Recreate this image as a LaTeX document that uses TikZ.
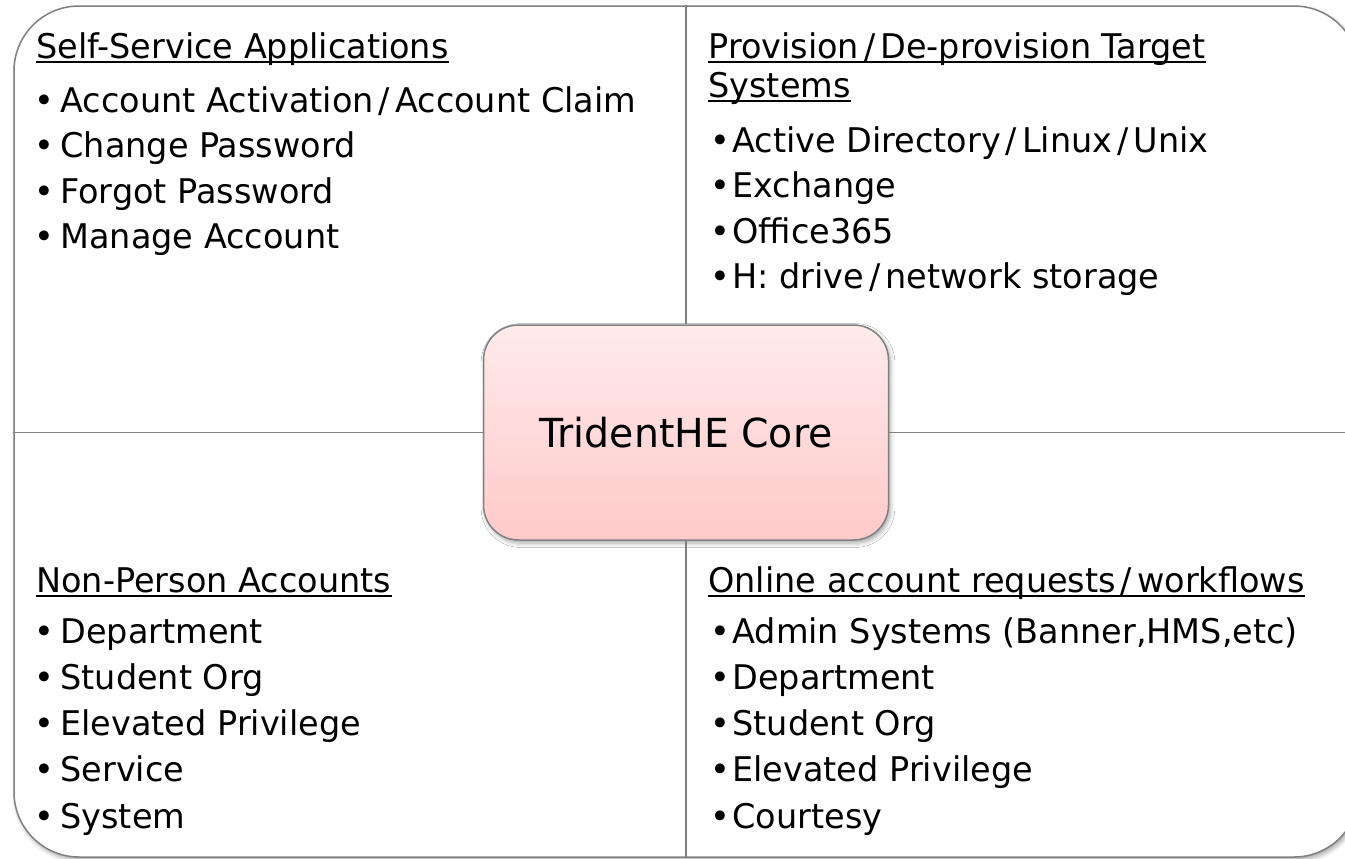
\documentclass[tikz,border=0pt]{standalone}
\usepackage{fontspec}
\setmainfont{DejaVu Sans}[FakeStretch=0.985]
\usetikzlibrary{shadows.blur}
\colorlet{linecol}{black!50}
\colorlet{coretop}{red!8}
\colorlet{corebot}{red!21}
\newcommand\quadfont{\fontsize{17}{20}\selectfont}
\newcommand\corefont{\fontsize{20}{24}\selectfont}
\newcommand\slh{\kern2.5pt/\kern2.5pt}
\tikzset{
  frame/.style={draw=linecol,line width=0.75pt,rounded corners=32.5pt,fill=white,
                blur shadow={shadow xshift=1pt,shadow yshift=-1.5pt,shadow opacity=35}},
  corebox/.style={draw=linecol,line width=0.75pt,rounded corners=17.5pt,
                  top color=coretop,bottom color=corebot,font=\corefont,
                  minimum width=202.5pt,minimum height=107.5pt,
                  blur shadow={shadow xshift=1pt,shadow yshift=-1.5pt,shadow opacity=35}},
  divider/.style={linecol,line width=0.75pt},
  head/.style={anchor=base west,inner sep=0,font=\quadfont},
  uline/.style={line width=0.8pt},
  item/.style={anchor=base west,inner sep=0,font=\quadfont},
  bul/.style={anchor=base,inner sep=0,font=\quadfont}
}

\begin{document}
\begin{tikzpicture}[x=0.5pt,y=-0.5pt]
  \def\dy{45.5}
  \def\dyb{46.25}
  \useasboundingbox (0,0) rectangle (1345,858);
  \clip (0,0) rectangle (1345,858);

  % FRAME AND CORE
  \node[frame,minimum width=672.5pt,minimum height=425.5pt] (frame) at (686.5,431.5) {};
  \node[corebox] (core) at (686,432.5) {TridentHE Core};
  \draw[divider] (core.north) -- (core.north |- frame.north);
  \draw[divider] (core.south) -- (core.south |- frame.south);
  \draw[divider] (core.west) -- (core.west -| frame.west);
  \draw[divider] (core.east) -- (core.east -| frame.east);

  % HEADINGS
  \node[head] (sa) at (36,58) {Self-Service Applications};
  \node[head] (pd) at (708,58) {Provision\slh De-provision Target};
  \node[head] (pds) at (708,97) {Systems};
  \node[head] (np) at (36,592) {Non-Person Accounts};
  \node[head] (oa) at (708,592) {Online account requests\slh workflows};
  \foreach \h in {sa,pd,pds,np,oa}
    \draw[uline] ([yshift=-2pt]\h.base west) -- ([yshift=-2pt]\h.base east);

  % ITEMS
  \foreach \txt [count=\i] in {Account Activation\slh Account Claim,Change Password,
      Forgot Password,Manage Account}{
    \node[bul] (sab\i) at (44,{112+(\i-1)*\dy}) {•};
    \node[item] (sa\i) at (60,{112+(\i-1)*\dy}) {\txt};
  }
  \foreach \txt [count=\i] in {Active Directory\slh Linux\slh Unix,Exchange,Office365,
      H: drive\slh network storage}{
    \node[bul] (pdb\i) at (720,{152+(\i-1)*\dy}) {•};
    \node[item] (pd\i) at (732,{152+(\i-1)*\dy}) {\txt};
  }
  \foreach \txt [count=\i] in {Department,Student Org,Elevated Privilege,
      Service,System}{
    \node[bul] (npb\i) at (44,{643+(\i-1)*\dyb}) {•};
    \node[item] (np\i) at (60,{643+(\i-1)*\dyb}) {\txt};
  }
  \foreach \txt [count=\i] in {{Admin Systems (Banner,HMS,etc)},Department,
      Student Org,Elevated Privilege,Courtesy}{
    \node[bul] (oab\i) at (720,{643+(\i-1)*\dyb}) {•};
    \node[item] (oa\i) at (732,{643+(\i-1)*\dyb}) {\txt};
  }
\end{tikzpicture}
\end{document}
